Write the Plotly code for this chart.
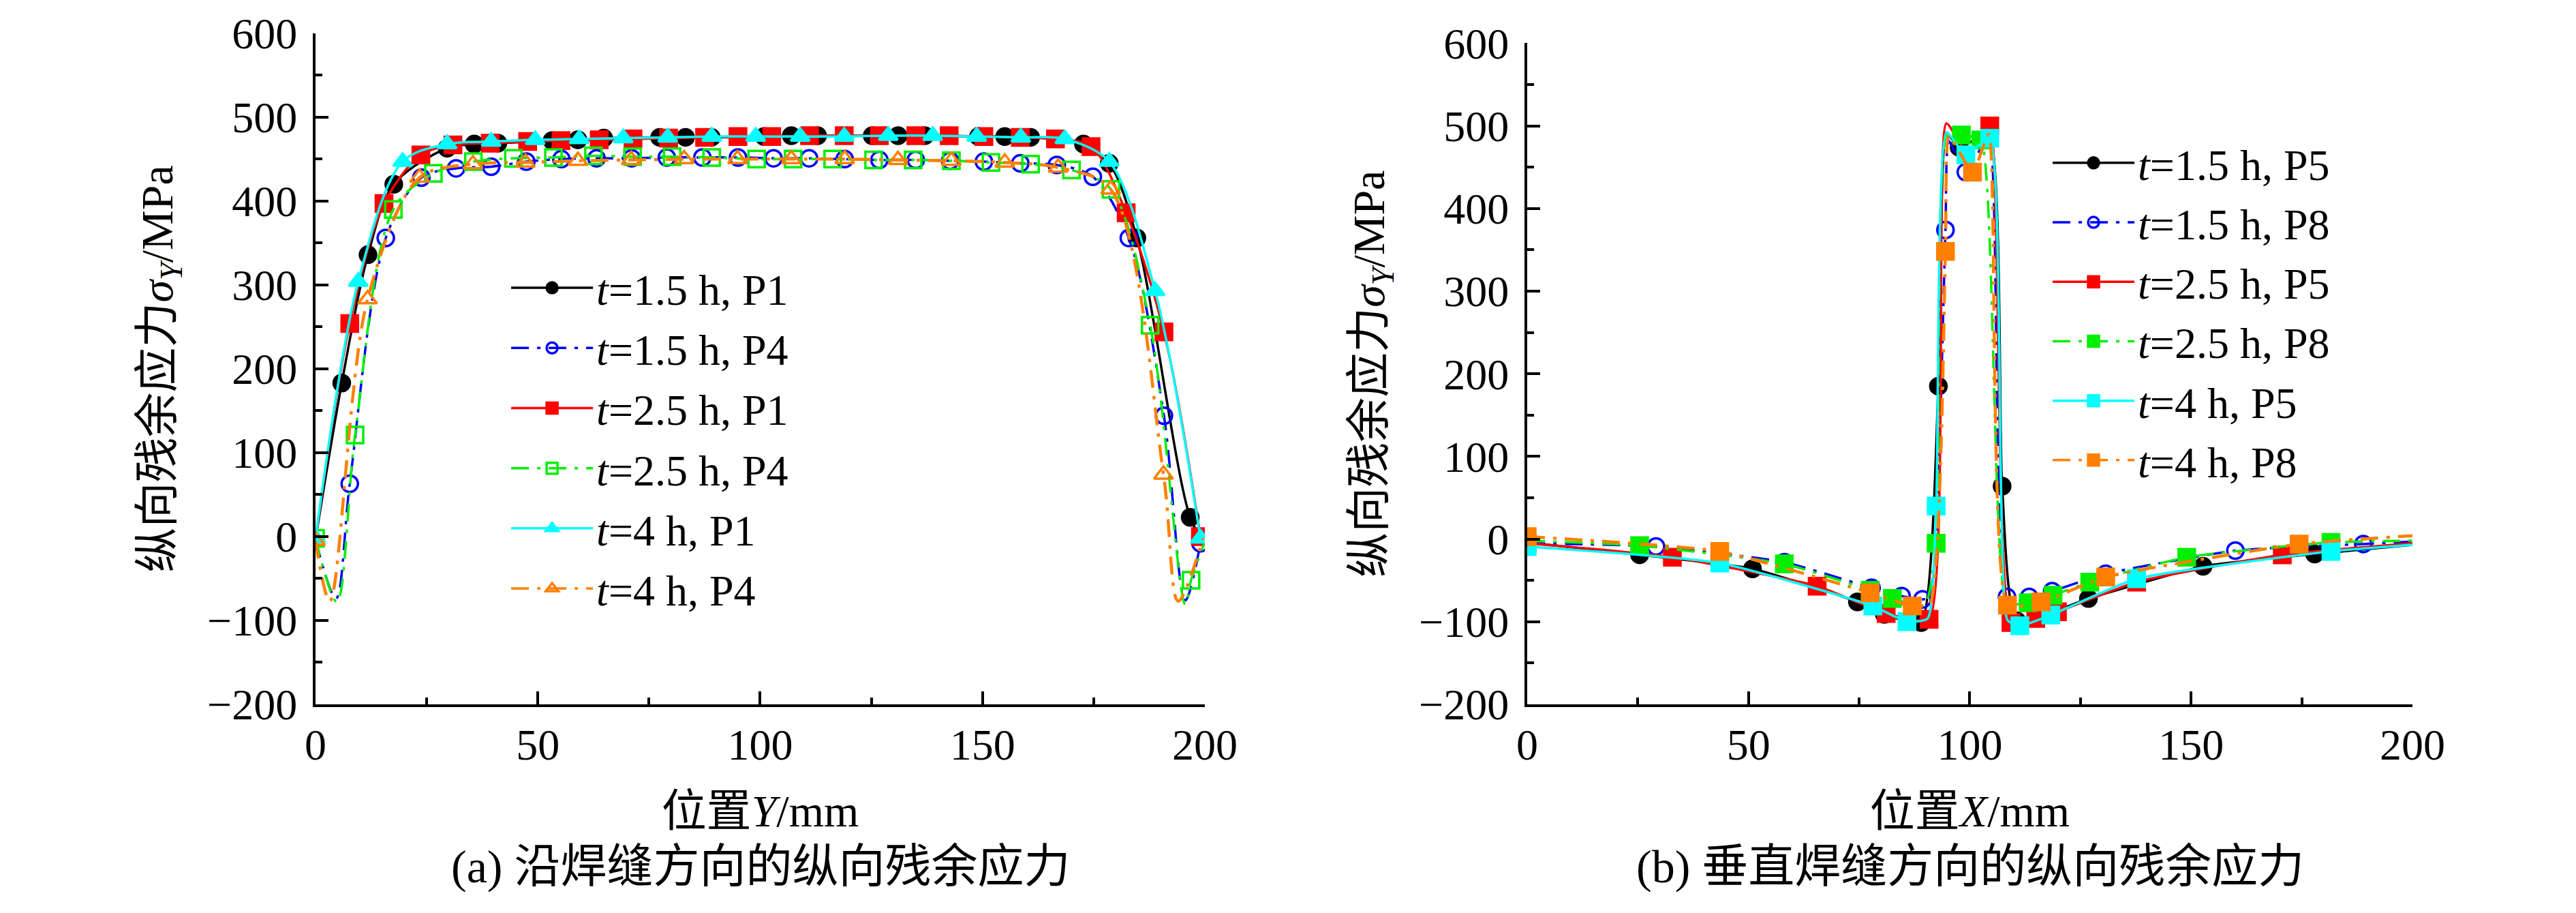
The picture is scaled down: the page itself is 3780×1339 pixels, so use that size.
import plotly.graph_objects as go

# ---------------- data: panel (a), along the weld (position Y, mm) ----------------
a_names = ["<i>t</i>=1.5 h, P1", "<i>t</i>=1.5 h, P4", "<i>t</i>=2.5 h, P1",
           "<i>t</i>=2.5 h, P4", "<i>t</i>=4 h, P1", "<i>t</i>=4 h, P4"]

# t=1.5 h, P1
a1_x = [5.9, 11.8, 17.6, 29.6, 35.7, 41.0, 53.2, 59.0, 64.8, 77.4, 83.2, 89.0, 100.9,
        107.0, 112.9, 125.2, 131.0, 137.0, 149.1, 155.0, 160.8, 172.7, 178.5, 184.7, 196.7]
a1_y = [183, 336, 420, 463, 468, 469, 472, 473, 475, 476, 476, 476, 477,
        478, 478, 478, 478, 478, 477, 477, 476, 468, 445, 356, 23]
a1_ex, a1_ey = [0, 200], [-3, -8]

# t=1.5 h, P4
a2_x = [7.7, 15.8, 23.8, 31.6, 39.5, 47.4, 55.3, 63.2, 71.1, 79.0, 87.0, 95.0, 103.0,
        111.0, 119.0, 126.8, 135.0, 142.7, 150.3, 158.5, 166.7, 174.8, 182.9, 190.8, 199.0]
a2_y = [63, 356, 428, 439, 441, 447, 450, 451, 451, 452, 452, 452, 451,
        451, 450, 449, 449, 448, 447, 445, 443, 429, 356, 144, -8]
a2_ex, a2_ey = [0, 4.6, 195.6], [-4, -74, -76]

# t=2.5 h, P1
a3_x = [7.7, 15.4, 23.7, 30.9, 39.3, 47.7, 55.2, 63.8, 71.4, 79.4, 87.5, 95.0, 102.6,
        111.1, 118.9, 126.8, 135.0, 142.5, 150.3, 158.5, 166.4, 174.4, 182.3, 190.8, 199.0]
a3_y = [254, 397, 455, 467, 469, 471, 472, 473, 474, 475, 476, 477, 477,
        478, 478, 478, 478, 478, 477, 476, 474, 465, 386, 244, 0]
a3_ex, a3_ey = [0], [-4]

# t=2.5 h, P4
a4_x = [0, 8.9, 17.5, 26.5, 35.5, 44.5, 53.5, 62.5, 71.3, 80.2, 89.1, 99.2,
        107.4, 116.3, 125.5, 134.4, 143.0, 151.9, 160.8, 170.0, 178.9, 187.7, 196.9]
a4_y = [-2, 121, 390, 433, 447, 451, 452, 454, 453, 453, 452, 450,
        450, 450, 449, 449, 448, 446, 444, 437, 414, 252, -52]
a4_ex, a4_ey = [4.8, 195.6, 200], [-78, -81, -6]

# t=4 h, P1
a5_x = [0, 9.6, 19.6, 29.6, 39.5, 49.4, 59.3, 69.2, 79.2, 89.1, 99.0, 109.0, 118.9,
        128.8, 138.8, 148.7, 158.6, 168.5, 178.5, 188.8, 199.0]
a5_y = [-2, 304, 447, 468, 471, 473, 474, 475, 476, 477, 477, 477, 477,
        478, 478, 477, 476, 474, 447, 293, -2]
a5_ex, a5_ey = [], []

# t=4 h, P4
a6_x = [0, 11.7, 23.4, 35.4, 47.2, 59.0, 71.0, 82.9, 94.9, 107.0, 119.0, 131.0,
        143.0, 155.0, 167.0, 178.8, 190.7]
a6_y = [-5, 283, 428, 444, 446, 448, 449, 450, 450, 450, 450, 449,
        448, 446, 440, 414, 74]
a6_ex, a6_ey = [3.2, 194.0, 199.6], [-77, -77, -2]

# ---------------- data: panel (b), across the weld (position X, mm) ----------------
b_names = ["<i>t</i>=1.5 h, P5", "<i>t</i>=1.5 h, P8", "<i>t</i>=2.5 h, P5",
           "<i>t</i>=2.5 h, P8", "<i>t</i>=4 h, P5", "<i>t</i>=4 h, P8"]

# t=1.5 h, P5
b1_x = [0, 25.4, 50.9, 74.6, 80.7, 89.0, 92.9, 97.6, 107.3, 110.6, 126.8, 152.7, 177.9]
b1_y = [-4, -19, -36, -76, -91, -101, 185, 474, 64, -99, -72, -33, -18]
b1_ex, b1_ey = [94.7, 104.3, 200], [492, 490, -7]

# t=1.5 h, P8
b2_x = [0, 29.1, 58.1, 77.8, 84.6, 89.3, 94.5, 99.1, 108.4, 113.4, 118.6, 130.7, 160.0, 188.9]
b2_y = [-5, -9, -28, -59, -69, -73, 374, 444, -70, -70, -63, -42, -14, -6]
b2_ex, b2_ey = [91.0, 95.2, 104.3, 200], [-70, 482, 487, -3]

# t=2.5 h, P5
b3_x = [0, 32.8, 65.5, 81.1, 90.8, 104.5, 109.3, 114.9, 119.8, 137.7, 170.6]
b3_y = [-5, -22, -57, -90, -97, 500, -101, -96, -88, -52, -19]
b3_ex, b3_ey = [94.7, 99.8, 200], [503, 465, -5]

# t=2.5 h, P8
b4_x = [25.4, 58.1, 77.5, 82.5, 92.4, 98.1, 102.5, 113.2, 118.8, 127.1, 149.0, 181.6]
b4_y = [-8, -30, -62, -72, -5, 489, 483, -77, -68, -52, -22, -4]
b4_ex, b4_ey = [0, 89.8, 94.8, 108.4, 200], [-2, -80, 490, -78, -2]

# t=4 h, P5
b5_x = [0, 43.5, 78.1, 85.8, 92.4, 99.1, 104.5, 111.3, 118.3, 137.7, 181.6]
b5_y = [-9, -29, -81, -100, 40, 465, 485, -105, -92, -48, -15]
b5_ex, b5_ey = [90.5, 94.7, 108.5, 200], [-96, 492, -98, -7]

# t=4 h, P8
b6_x = [0, 43.5, 77.5, 87.0, 94.5, 100.6, 108.5, 116.1, 130.7, 174.4]
b6_y = [3, -15, -65, -81, 348, 444, -80, -76, -46, -6]
b6_ex, b6_ey = [91.0, 95.3, 104.3, 200], [-78, 488, 490, 4]

# ---------------- styles ----------------
FONT = "Liberation Serif, Noto Sans CJK SC"
DASHDOT = "26px,12px,5px,12px"

a_styles = [
    dict(color="#000000", symbol="circle", dash="solid"),
    dict(color="#0000FF", symbol="circle-open", dash=DASHDOT),
    dict(color="#FF0000", symbol="square", dash="solid"),
    dict(color="#00EE00", symbol="square-open", dash=DASHDOT),
    dict(color="#00FFFF", symbol="triangle-up", dash="solid"),
    dict(color="#FF8000", symbol="triangle-up-open", dash=DASHDOT),
]
b_styles = [
    dict(color="#000000", symbol="circle", dash="solid"),
    dict(color="#0000FF", symbol="circle-open", dash=DASHDOT),
    dict(color="#FF0000", symbol="square", dash="solid"),
    dict(color="#00EE00", symbol="square", dash=DASHDOT),
    dict(color="#00FFFF", symbol="square", dash="solid"),
    dict(color="#FF8000", symbol="square", dash=DASHDOT),
]

a_series = [(a1_x, a1_y, a1_ex, a1_ey), (a2_x, a2_y, a2_ex, a2_ey), (a3_x, a3_y, a3_ex, a3_ey),
            (a4_x, a4_y, a4_ex, a4_ey), (a5_x, a5_y, a5_ex, a5_ey), (a6_x, a6_y, a6_ex, a6_ey)]
b_series = [(b1_x, b1_y, b1_ex, b1_ey), (b2_x, b2_y, b2_ex, b2_ey), (b3_x, b3_y, b3_ex, b3_ey),
            (b4_x, b4_y, b4_ex, b4_ey), (b5_x, b5_y, b5_ex, b5_ey), (b6_x, b6_y, b6_ex, b6_ey)]

fig = go.Figure()


def add_series(series, names, styles, xa, ya, legend, smoothing, tag):
    for i, ((mx, my, ex, ey), name, st) in enumerate(zip(series, names, styles)):
        # the curve runs through the marked points plus a few unmarked knots
        pts = sorted(zip(list(mx) + list(ex), list(my) + list(ey)))
        lx = [p[0] for p in pts]
        ly = [p[1] for p in pts]
        lw = 4.5 if st["color"] == "#FF8000" else 3.5
        group = f"{tag}{i}"
        fig.add_trace(go.Scatter(
            x=lx, y=ly, mode="lines", xaxis=xa, yaxis=ya, showlegend=False,
            legendgroup=group, hoverinfo="skip",
            line=dict(color=st["color"], width=lw, dash=st["dash"],
                      shape="spline", smoothing=smoothing)))
        fig.add_trace(go.Scatter(
            x=mx, y=my, mode="markers", xaxis=xa, yaxis=ya, showlegend=False,
            legendgroup=group,
            marker=dict(color=st["color"], symbol=st["symbol"], size=24,
                        line=dict(color=st["color"], width=3.5))))
        # legend entry (line + marker sample)
        fig.add_trace(go.Scatter(
            x=[None], y=[None], mode="lines+markers", name=name, xaxis=xa, yaxis=ya,
            legend=legend, legendgroup=group,
            line=dict(color=st["color"], width=3.5, dash=st["dash"]),
            marker=dict(color=st["color"], symbol=st["symbol"], size=20,
                        line=dict(color=st["color"], width=3.5))))


add_series(a_series, a_names, a_styles, "x", "y", "legend", 0.9, "a")
add_series(b_series, b_names, b_styles, "x2", "y2", "legend2", 0.5, "b")

ytitle = "纵向残余应力<i>σ</i><sub><i>Y</i></sub>/MPa"

axis_common = dict(
    showline=True, linecolor="black", linewidth=4, mirror=False,
    showgrid=False, zeroline=False, automargin=False, ticklabeloverflow="allow",
    ticks="inside", ticklen=19, tickwidth=4, tickcolor="black",
    tickfont=dict(family=FONT, size=64, color="black"),
    title_font=dict(family=FONT, size=66, color="black"),
)
minor_x = dict(dtick=25, ticks="inside", ticklen=10, tickwidth=4, tickcolor="black")
minor_y = dict(dtick=50, ticks="inside", ticklen=10, tickwidth=4, tickcolor="black")

fig.update_layout(
    template="none",
    width=3780, height=1339,
    paper_bgcolor="white", plot_bgcolor="white",
    margin=dict(l=0, r=0, t=0, b=0),
    font=dict(family=FONT, size=64, color="black"),
    xaxis=dict(domain=[0.12037, 0.46561], range=[0, 200], dtick=50, minor=minor_x,
               title=dict(text="位置<i>Y</i>/mm", standoff=40), anchor="y", **axis_common),
    yaxis=dict(domain=[0.2345, 0.9695], range=[-200, 600], dtick=100, minor=minor_y,
               ticklabelstandoff=10,
               title=dict(text=ytitle, standoff=30), anchor="x", **axis_common),
    xaxis2=dict(domain=[0.59074, 0.93439], range=[0, 200], dtick=50, minor=minor_x,
                title=dict(text="位置<i>X</i>/mm", standoff=40), anchor="y2", **axis_common),
    yaxis2=dict(domain=[0.2345, 0.9586], range=[-200, 600], dtick=100, minor=minor_y,
                ticklabelstandoff=10,
                title=dict(text=ytitle, standoff=30), anchor="x2", **axis_common),
    legend=dict(x=0.195, y=0.7267, xanchor="left", yanchor="top",
                bgcolor="rgba(0,0,0,0)", itemwidth=120, tracegroupgap=2,
                font=dict(family=FONT, size=64, color="black")),
    legend2=dict(x=0.7934, y=0.8635, xanchor="left", yanchor="top",
                 bgcolor="rgba(0,0,0,0)", itemwidth=120, tracegroupgap=1,
                 font=dict(family=FONT, size=64, color="black")),
    annotations=[
        dict(text="(a) 沿焊缝方向的纵向残余应力", x=0.293, y=0.057, xref="paper", yref="paper",
             showarrow=False, xanchor="center", yanchor="middle",
             font=dict(family=FONT, size=68, color="black")),
        dict(text="(b) 垂直焊缝方向的纵向残余应力", x=0.7626, y=0.057, xref="paper", yref="paper",
             showarrow=False, xanchor="center", yanchor="middle",
             font=dict(family=FONT, size=68, color="black")),
    ],
)

fig.write_html("out.html")
